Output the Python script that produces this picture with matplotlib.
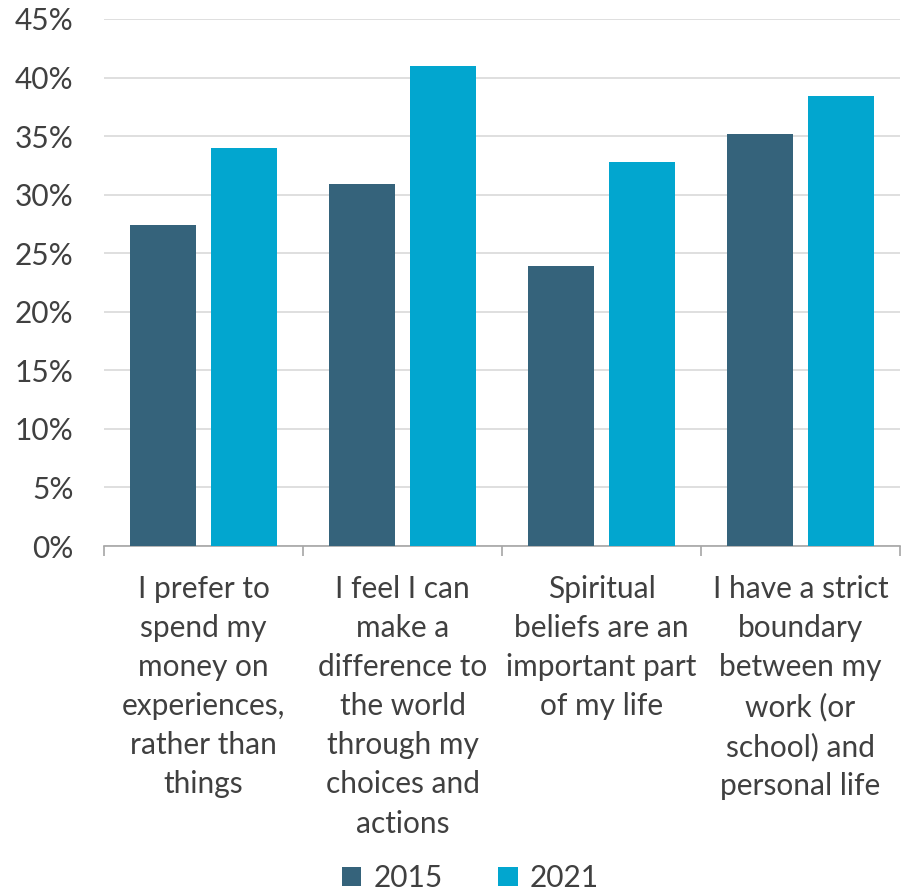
import matplotlib
matplotlib.use("Agg")
import matplotlib.pyplot as plt
import numpy as np
from matplotlib.ticker import MultipleLocator, FuncFormatter, FixedLocator
from matplotlib.patches import Patch

categories = [
    "I prefer to\nspend my\nmoney on\nexperiences,\nrather than\nthings",
    "I feel I can\nmake a\ndifference to\nthe world\nthrough my\nchoices and\nactions",
    "Spiritual\nbeliefs are an\nimportant part\nof my life",
    "I have a strict\nboundary\nbetween my\nwork (or\nschool) and\npersonal life",
]
series_names = ["2015", "2021"]
values_2015 = [27.4, 30.9, 23.9, 35.2]
values_2021 = [34.0, 41.0, 32.8, 38.4]
colors = ["#35637B", "#02A6CF"]

plt.rcParams['font.family'] = ['Lato', 'DejaVu Sans']
text_color = "#404040"
fs = 21.5

fig = plt.figure(figsize=(9.02, 8.91), dpi=100)
ax = fig.add_axes([104/902, 1-546/891, (900-104)/902, (546-19)/891])

x = np.arange(len(categories))
w = 0.33
off = 0.205
ax.bar(x - off, values_2015, width=w, color=colors[0], zorder=3)
ax.bar(x + off, values_2021, width=w, color=colors[1], zorder=3)

ax.set_xlim(-0.5, len(categories) - 0.5)
ax.set_ylim(0, 45)
ax.yaxis.set_major_locator(MultipleLocator(5))
ax.yaxis.set_major_formatter(FuncFormatter(lambda v, p: f"{int(round(v))}%"))
ax.grid(axis='y', color='#D9D9D9', linewidth=1.2, zorder=0)
for s in ['left', 'right', 'top']:
    ax.spines[s].set_visible(False)
ax.spines['bottom'].set_color('#A6A6A6')
ax.spines['bottom'].set_linewidth(1.2)

ax.tick_params(axis='y', length=0, labelsize=fs, labelcolor=text_color, pad=22)
ax.xaxis.set_major_locator(FixedLocator(np.arange(-0.5, len(categories)+0.5, 1)))
ax.xaxis.set_major_formatter(FuncFormatter(lambda v, p: ""))
ax.tick_params(axis='x', which='major', length=7, color='#A6A6A6', width=1.2)
for i, c in enumerate(categories):
    ax.text(i, -2.5, c, ha='center', va='top', fontsize=fs, color=text_color,
            linespacing=1.48, transform=ax.transData)

handles = [Patch(facecolor=colors[0]), Patch(facecolor=colors[1])]
fig.legend(handles, series_names, loc='center', bbox_to_anchor=(470.5/902, 1-878/891),
           ncol=2, frameon=False, fontsize=fs, labelcolor=text_color,
           handlelength=0.65, handleheight=0.65, columnspacing=1.87, handletextpad=0.4)

fig.savefig("out.png", dpi=100)
